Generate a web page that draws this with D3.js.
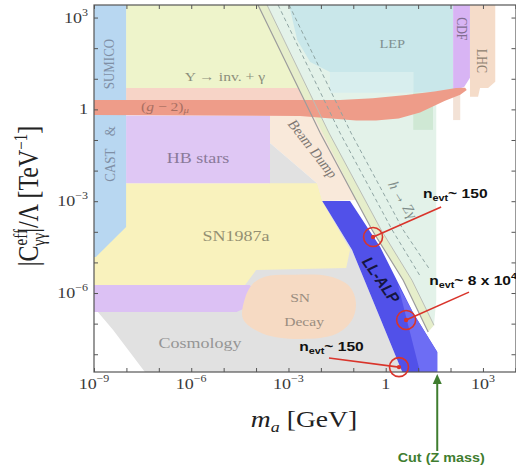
<!DOCTYPE html>
<html>
<head>
<meta charset="utf-8">
<script src="https://cdn.jsdelivr.net/npm/d3@7"></script>
<style>
  body { margin: 0; background: #fff; }
  text { font-family: "Liberation Serif", "Times New Roman", serif; }
</style>
</head>
<body>
<svg id="chart" width="516" height="467"></svg>
<script>
// All values are log10 exponents: mass m_a in GeV, coupling |C|/Λ in TeV^-1.
const massExtent = [-9, 4.02];
const couplingExtent = [-8.58, 3.41];
const massTicks = d3.range(-9, 5);
const couplingTicks = d3.range(-8, 4);
const massLabelExps = [-9, -6, -3, 0, 3];
const couplingLabelExps = [3, 0, -3, -6];

// Excluded regions, vertices as [log10 m, log10 g]
const sumicoCast = [[-9, 3.41], [-8.01, 3.41], [-8.01, -3.84], [-8.94, -4.82], [-9, -4.82]];
const upsilonDecay = [[-8.01, 3.41], [-3.94, 3.41], [-2.70, 0.70], [-8.01, 0.70]];
const upsilonEdge = [[-8.01, 0.70], [-2.70, 0.70], [-2.52, 0.31], [-8.01, 0.31]];
const gMinus2 = [[-9, 0.31], [-1.41, 0.31], [-0.40, 0.36], [0.63, 0.47], [1.50, 0.58], [2.17, 0.70], [2.45, 0.71],
                 [2.50, 0.63], [2.30, 0.48], [1.83, 0.28], [1.06, -0.10], [0.40, -0.30], [-0.30, -0.36],
                 [-0.91, -0.36], [-2.64, -0.22], [-9, -0.18]];
const hbStars = [[-8.01, -0.20], [-3.57, -0.20], [-3.57, -2.41], [-8.01, -2.41]];
const beamDump = [[-3.57, -0.22], [-2.21, -0.22], [-0.91, -2.96], [-1.96, -2.99], [-2.12, -2.41], [-3.57, -1.10]];
const cosmology = [[-8.88, -6.62], [-3.57, -2.41], [-3.57, -1.10], [-2.12, -2.41], [-1.96, -2.99], [-1.04, -4.59],
                   [-0.17, -6.82], [0.51, -8.58], [-7.43, -8.58], [-8.41, -7.21]];
const sn1987a = [[-9, -2.41], [-2.12, -2.41], [-1.96, -2.99], [-1.10, -4.59], [-1.22, -5.18], [-4.00, -5.25],
                 [-4.34, -5.74], [-9, -5.74]];
const hbLow = [[-9, -5.74], [-4.20, -5.74], [-4.10, -5.85], [-4.16, -6.20], [-4.35, -6.50], [-4.60, -6.62], [-9, -6.62]];
const snDecay = [[-4.10, -5.70], [-3.70, -5.46], [-2.80, -5.40], [-1.72, -5.46], [-1.12, -5.78], [-0.92, -6.30],
                 [-1.05, -6.90], [-1.55, -7.35], [-2.70, -7.50], [-3.80, -7.32], [-4.40, -6.85], [-4.35, -6.20]];
const lep = [[-2.98, 3.41], [2.08, 3.41], [2.08, 0.63], [1.46, 0.57], [0.85, 0.54], [0.85, 1.22],
             [-1.72, 1.22], [-2.33, 1.55], [-2.73, 2.27]];
const lepLow = [[-1.72, 1.22], [0.85, 1.22], [0.85, 0.54], [-1.72, 0.54]];
const lepStep = [[0.85, 0.54], [1.46, 0.54], [1.46, -0.67], [0.85, -0.67]];
const cdf = [[2.08, 3.41], [2.60, 3.41], [2.60, 1.03], [2.42, 0.73], [2.14, 0.63], [2.08, 0.63]];
const lhc = [[2.60, 3.41], [3.38, 3.41], [3.38, 0.90], [3.16, 0.70], [2.91, 0.70], [2.85, 0.41], [2.60, 0.41]];
const lhcLow = [[2.08, 0.63], [2.30, 0.63], [2.30, -0.35], [2.08, -0.35]];

// Boundary curves of the beam-dump / h -> Zγ constraints
const dumpLine1 = [[-3.94, 3.41], [-2.02, -0.77], [-0.42, -3.94], [0.54, -5.58], [1.31, -7.27]];
const dumpLine2 = [[-3.66, 3.41], [-1.75, -0.77], [-0.14, -3.94], [0.81, -5.58], [1.49, -7.05]];
const hzgLine1 = [[-3.32, 3.41], [-1.41, -0.77], [0.20, -3.94], [1.06, -5.44]];
const hzgLine2 = [[-2.98, 3.41], [-1.07, -0.77], [0.54, -3.94], [1.37, -5.25]];
const hzgEdge = 1.56;  // right edge of the h -> Zγ region

// Long-lived ALP reach
const llAlp = [[-1.96, -2.99], [-1.10, -2.99], [-0.17, -4.50], [0.85, -6.65], [1.59, -7.93], [1.59, -8.58],
               [0.51, -8.58], [-0.17, -6.82], [-1.04, -4.59]];
const llAlpEdge = [[0.38, -5.74], [0.85, -6.65], [1.59, -7.93], [1.59, -8.58], [1.06, -8.58]];

// Event-count call-outs: circle centre, line start, label anchor
const calloutCircles = [[-0.39, -4.17], [0.63, -6.88], [0.41, -8.42]];
const calloutStarts = [[1.71, -3.19], [2.57, -5.97], [-1.75, -8.12]];
const calloutAnchors = [[1.15, -2.90], [1.34, -5.74], [-2.67, -7.90]];
const calloutCounts = ["150", "8 x 10", "150"];
const calloutPowers = ["", "4", ""];
const zCutMass = 1.59;

const svg = d3.select("#chart");
const x = d3.scaleLog().domain([10 ** massExtent[0], 10 ** massExtent[1]]).range([94, 516]);
const y = d3.scaleLog().domain([10 ** couplingExtent[0], 10 ** couplingExtent[1]]).range([372, 5]);
const px = d => x(10 ** d[0]);
const py = d => y(10 ** d[1]);
const closed = d3.line().x(px).y(py).curve(d3.curveLinearClosed);
const smooth = d3.line().x(px).y(py).curve(d3.curveCatmullRomClosed.alpha(0.5));
const open = d3.line().x(px).y(py);
const STRETCH = 1.2;

svg.append("defs").append("clipPath").attr("id", "plotClip")
  .append("rect").attr("x", 94).attr("y", 5).attr("width", 422).attr("height", 367);
const plot = svg.append("g").attr("clip-path", "url(#plotClip)");

const dumpBand = dumpLine1.concat(dumpLine2.slice().reverse());
const mint = [dumpLine2[0], [hzgEdge, 3.41], [hzgEdge, -6.23], dumpLine2[4], dumpLine2[3], dumpLine2[2], dumpLine2[1]];

const layers = [
  [mint, "#e3f2e9", closed],
  [dumpBand, "#e6eecb", closed],
  [lep, "#c9e7ea", closed],
  [lepLow, "#d8eeee", closed],
  [lepStep, "#cfe8d4", closed],
  [cdf, "#d8b4f4", closed],
  [lhc, "#f5dcc9", closed],
  [lhcLow, "#f3e2d6", closed],
  [upsilonDecay, "#eef4cb", closed],
  [upsilonEdge, "#f7d4c7", closed],
  [beamDump, "#f9e9da", closed],
  [cosmology, "#e1e1e1", closed],
  [sn1987a, "#f9f2bd", closed],
  [hbLow, "#dcc1f4", closed],
  [snDecay, "#f6dac3", smooth],
  [hbStars, "#dfc7f4", closed],
  [sumicoCast, "#b8d7f1", closed],
  [gMinus2, "#ee9c89", closed],
  [llAlp, "#5151e9", closed],
  [llAlpEdge, "#6d6df4", closed]
];
plot.selectAll("path.region").data(layers).join("path")
  .attr("class", "region")
  .attr("d", d => d[2](d[0]))
  .attr("fill", d => d[1]);

// constraint boundary lines
plot.append("path").attr("d", open(dumpLine1)).attr("fill", "none").attr("stroke", "#9c9c9c").attr("stroke-width", 1.2);
plot.append("path").attr("d", open(dumpLine2)).attr("fill", "none").attr("stroke", "#b9bdb6").attr("stroke-width", 1);
[hzgLine1, hzgLine2].forEach(l =>
  plot.append("path").attr("d", open(l)).attr("fill", "none")
    .attr("stroke", "#8fa5a3").attr("stroke-width", 1).attr("stroke-dasharray", "4,3"));

// region labels
function place(g, pos, txt, size, opts = {}) {
  const t = g.append("text")
    .attr("transform", `translate(${px(pos)},${py(pos)}) scale(${STRETCH},1) rotate(${opts.rot || 0})`)
    .attr("text-anchor", "middle").attr("dominant-baseline", "central")
    .attr("font-size", size).attr("fill", opts.fill || "#8b8b8b");
  if (opts.italic) t.attr("font-style", "italic");
  if (opts.bold) t.attr("font-weight", "bold");
  if (opts.sans) t.style("font-family", "'Liberation Sans', Arial, sans-serif");
  if (typeof txt === "string") t.text(txt); else txt(t);
  return t;
}
place(plot, [-8.54, 1.48], "SUMICO", 13, { rot: -90, fill: "#7f8fa5" });
place(plot, [-8.51, -0.71], "&", 13, { rot: -90, fill: "#7f8fa5" });
place(plot, [-8.51, -1.82], "CAST", 13, { rot: -90, fill: "#7f8fa5" });
place(plot, [-4.96, 1.09], "Υ → inv. + γ", 13, { fill: "#8c8f7c" });
place(plot, [-6.81, 0.11], t => {
  t.append("tspan").text("(");
  t.append("tspan").attr("font-style", "italic").text("g");
  t.append("tspan").text(" − 2)");
  t.append("tspan").attr("font-size", 9).attr("dy", 3).attr("font-style", "italic").text("μ");
}, 13, { fill: "#a86f62" });
place(plot, [-5.79, -1.59], "HB stars", 15, { fill: "#8a7a99" });
place(plot, [-4.62, -4.14], "SN1987a", 15, { fill: "#949072" });
place(plot, [-2.64, -6.13], "SN", 13, { fill: "#9a8d80" });
place(plot, [-2.52, -6.92], "Decay", 13, { fill: "#9a8d80" });
place(plot, [-5.73, -7.63], "Cosmology", 15, { fill: "#959595" });
place(plot, [0.20, 2.14], "LEP", 12, { fill: "#7f9091" });
place(plot, [2.36, 2.63], "CDF", 12, { rot: 90, fill: "#806d90" });
place(plot, [2.98, 1.58], "LHC", 12, { rot: 90, fill: "#8d8070" });
place(plot, [-2.24, -1.29], "Beam Dump", 13, { rot: 57, fill: "#7d7772" });
place(plot, [0.54, -2.96], t => {
  t.append("tspan").attr("font-style", "italic").text("h");
  t.append("tspan").text(" → Zγ");
}, 13, { rot: 63, fill: "#7d8a88" });
place(plot, [-0.14, -5.58], "LL-ALP", 14, { rot: 60, fill: "#15153f", bold: true, sans: true });

// axis ticks on all four sides, pointing inward
const xTickVals = massTicks.map(e => 10 ** e);
const yTickVals = couplingTicks.map(e => 10 ** e);
function ticks(axis, tx, ty) {
  const g = svg.append("g").attr("transform", `translate(${tx},${ty})`)
    .call(axis.tickSizeInner(-4).tickSizeOuter(0).tickFormat(() => ""));
  g.select(".domain").remove();
  g.selectAll("line").attr("stroke", "#555");
}
ticks(d3.axisBottom(x).tickValues(xTickVals), 0, 372);
ticks(d3.axisTop(x).tickValues(xTickVals), 0, 5);
ticks(d3.axisLeft(y).tickValues(yTickVals), 94, 0);
ticks(d3.axisRight(y).tickValues(yTickVals), 515.5, 0);
svg.append("rect").attr("x", 94).attr("y", 5).attr("width", 422).attr("height", 367)
  .attr("fill", "none").attr("stroke", "#555").attr("stroke-width", 1.2);

function powerLabel(t, e) {
  if (e === 0) { t.append("tspan").text("1"); return; }
  t.append("tspan").text("10");
  t.append("tspan").attr("font-size", 10).attr("dy", -7).text(e < 0 ? "−" + (-e) : String(e));
}
massLabelExps.forEach(e => {
  const t = svg.append("text")
    .attr("transform", `translate(${x(10 ** e)},389) scale(${STRETCH},1)`)
    .attr("text-anchor", "middle").attr("font-size", 15).attr("fill", "#3a3a3a");
  powerLabel(t, e);
});
couplingLabelExps.forEach(e => {
  const t = svg.append("text")
    .attr("transform", `translate(88,${y(10 ** e) + 5}) scale(${STRETCH},1)`)
    .attr("text-anchor", "end").attr("font-size", 15).attr("fill", "#3a3a3a");
  powerLabel(t, e);
});

// axis titles
const xt = svg.append("text")
  .attr("transform", `translate(304,427) scale(${STRETCH},1)`)
  .attr("text-anchor", "middle").attr("font-size", 23).attr("fill", "#222");
xt.append("tspan").attr("font-style", "italic").text("m");
xt.append("tspan").attr("font-style", "italic").attr("font-size", 15).attr("dy", 5).text("a");
xt.append("tspan").attr("dy", -5).text(" [GeV]");

const yt = svg.append("text")
  .attr("transform", `translate(38,196) scale(${STRETCH},1) rotate(-90)`)
  .attr("text-anchor", "middle").attr("font-size", 24).attr("fill", "#222");
yt.append("tspan").text("|C");
yt.append("tspan").attr("font-size", 15).attr("dy", -9).text("eff");
yt.append("tspan").attr("font-size", 15).attr("dx", -17).attr("dy", 15).text("γγ");
yt.append("tspan").attr("dy", -6).text("|/Λ [TeV");
yt.append("tspan").attr("font-size", 15).attr("dy", -9).text("−1");
yt.append("tspan").attr("dy", 9).text("]");

// event-count call-outs
const red = "#d9342b";
calloutCircles.forEach((c, i) => {
  const s = calloutStarts[i];
  svg.append("line").attr("x1", px(s)).attr("y1", py(s)).attr("x2", px(c)).attr("y2", py(c))
    .attr("stroke", red).attr("stroke-width", 1.6);
  svg.append("circle").attr("cx", px(c)).attr("cy", py(c)).attr("r", 2.2).attr("fill", red);
  svg.append("circle").attr("cx", px(c)).attr("cy", py(c)).attr("r", 9.5)
    .attr("fill", "none").attr("stroke", red).attr("stroke-width", 1.6);
  const a = calloutAnchors[i];
  const t = svg.append("text")
    .attr("transform", `translate(${px(a)},${py(a)}) scale(${STRETCH},1)`)
    .style("font-family", "'Liberation Sans', Arial, sans-serif")
    .attr("font-weight", "bold").attr("font-size", 13).attr("fill", "#111");
  t.append("tspan").text("n");
  t.append("tspan").attr("font-size", 9).attr("dy", 3).text("evt");
  t.append("tspan").attr("dy", -3).text("~ " + calloutCounts[i]);
  if (calloutPowers[i]) t.append("tspan").attr("font-size", 9).attr("dy", -6).text(calloutPowers[i]);
});

// mass cut marker
const green = "#3f7d2f";
const cx = x(10 ** zCutMass);
svg.append("line").attr("x1", cx).attr("x2", cx).attr("y1", 451).attr("y2", 382)
  .attr("stroke", green).attr("stroke-width", 2);
svg.append("path").attr("d", `M${cx},374 L${cx - 4.5},384 L${cx + 4.5},384 Z`).attr("fill", green);
svg.append("text").attr("transform", `translate(${cx + 4},462) scale(${STRETCH},1)`)
  .attr("text-anchor", "middle").style("font-family", "'Liberation Sans', Arial, sans-serif")
  .attr("font-weight", "bold").attr("font-size", 12).attr("fill", green).text("Cut (Z mass)");
</script>
</body>
</html>
